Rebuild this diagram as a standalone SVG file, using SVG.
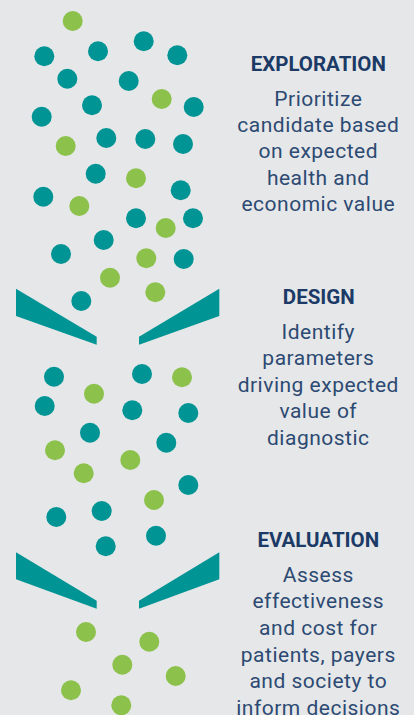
<svg xmlns="http://www.w3.org/2000/svg" width="414" height="715" viewBox="0 0 414 715">
  <style>
    .bg { fill: #e6e7e9; }
    .t { fill: #009494; }
    .g { fill: #8cc24b; }
    .wedge { fill: #009494; }
    .head { font-family: Roboto, "Liberation Sans", sans-serif; font-weight: 700; font-size: 20.5px; fill: #1b3a66; text-anchor: middle; }
    .body { font-family: Roboto, "Liberation Sans", sans-serif; font-size: 21px; letter-spacing: 0.5px; fill: #2c4a72; text-anchor: middle; }
  </style>
  <defs>
    <circle id="dot" r="10"/>
  </defs>
  <rect class="bg" x="0" y="0" width="414" height="715"/>

  <!-- Exploration cloud -->
  <g id="dots-exploration">
    <use href="#dot" class="g" x="72.7" y="21"/>
    <use href="#dot" class="t" x="44.3" y="56.3"/>
    <use href="#dot" class="t" x="98" y="51.3"/>
    <use href="#dot" class="t" x="143.7" y="41.3"/>
    <use href="#dot" class="t" x="177.3" y="55.3"/>
    <use href="#dot" class="t" x="67.3" y="78.7"/>
    <use href="#dot" class="t" x="128.7" y="81"/>
    <use href="#dot" class="g" x="161.7" y="99"/>
    <use href="#dot" class="t" x="193.7" y="107"/>
    <use href="#dot" class="t" x="92" y="105.3"/>
    <use href="#dot" class="t" x="41.7" y="116.7"/>
    <use href="#dot" class="g" x="65.7" y="146"/>
    <use href="#dot" class="t" x="106.3" y="138"/>
    <use href="#dot" class="t" x="145.3" y="139"/>
    <use href="#dot" class="t" x="183" y="144"/>
    <use href="#dot" class="t" x="95.7" y="173.7"/>
    <use href="#dot" class="g" x="136" y="178.3"/>
    <use href="#dot" class="t" x="180.7" y="190.3"/>
    <use href="#dot" class="t" x="43.3" y="196.7"/>
    <use href="#dot" class="g" x="79.3" y="206"/>
    <use href="#dot" class="t" x="136" y="218.3"/>
    <use href="#dot" class="g" x="165.7" y="228"/>
    <use href="#dot" class="t" x="193" y="218.3"/>
    <use href="#dot" class="t" x="103.7" y="240"/>
    <use href="#dot" class="t" x="61" y="254"/>
    <use href="#dot" class="g" x="146.3" y="258.3"/>
    <use href="#dot" class="t" x="183.7" y="259"/>
    <use href="#dot" class="g" x="110" y="277.7"/>
    <use href="#dot" class="g" x="155.3" y="292.3"/>
    <use href="#dot" class="t" x="81.3" y="301"/>
  </g>

  <!-- First funnel -->
  <g id="funnel-1">
    <polygon class="wedge" points="16,288.7 96.7,336.7 96.7,344.7 16,316"/>
    <polygon class="wedge" points="219.3,288.7 139,336.7 139,344.7 219.3,316"/>
  </g>

  <!-- Design cloud -->
  <g id="dots-design">
    <use href="#dot" class="t" x="54" y="376.7"/>
    <use href="#dot" class="t" x="142" y="374"/>
    <use href="#dot" class="g" x="182" y="377.3"/>
    <use href="#dot" class="g" x="94" y="393.7"/>
    <use href="#dot" class="t" x="44.7" y="406"/>
    <use href="#dot" class="t" x="132.3" y="410.3"/>
    <use href="#dot" class="t" x="188.3" y="413"/>
    <use href="#dot" class="t" x="90" y="432.7"/>
    <use href="#dot" class="t" x="166.3" y="442.7"/>
    <use href="#dot" class="g" x="55" y="450.3"/>
    <use href="#dot" class="g" x="130.3" y="460"/>
    <use href="#dot" class="g" x="83.7" y="473.3"/>
    <use href="#dot" class="t" x="188.3" y="485"/>
    <use href="#dot" class="g" x="154" y="500"/>
    <use href="#dot" class="t" x="56.3" y="517"/>
    <use href="#dot" class="t" x="101.7" y="511"/>
    <use href="#dot" class="t" x="105.7" y="546.3"/>
    <use href="#dot" class="t" x="156" y="535.7"/>
  </g>

  <!-- Second funnel -->
  <g id="funnel-2">
    <polygon class="wedge" points="16,552.3 96.7,600.7 96.7,608.7 16,579.3"/>
    <polygon class="wedge" points="219.3,552.3 139,600.7 139,608.7 219.3,579.3"/>
  </g>

  <!-- Evaluation cloud -->
  <g id="dots-evaluation">
    <use href="#dot" class="g" x="86" y="632"/>
    <use href="#dot" class="g" x="149.3" y="641.7"/>
    <use href="#dot" class="g" x="122.3" y="664.7"/>
    <use href="#dot" class="g" x="175.7" y="676"/>
    <use href="#dot" class="g" x="71" y="690.3"/>
    <use href="#dot" class="g" x="121.3" y="705.3"/>
  </g>

  <!-- Stage descriptions -->
  <g id="label-exploration">
    <text class="head" x="318.3" y="71">EXPLORATION</text>
    <text class="body" x="318.3" y="105.7">Prioritize</text>
    <text class="body" x="318.3" y="132">candidate based</text>
    <text class="body" x="318.3" y="158.3">on expected</text>
    <text class="body" x="318.3" y="184.6">health and</text>
    <text class="body" x="318.3" y="210.9">economic value</text>
  </g>
  <g id="label-design">
    <text class="head" x="318.8" y="304.3">DESIGN</text>
    <text class="body" x="318.3" y="338.5">Identify</text>
    <text class="body" x="318.3" y="365">parameters</text>
    <text class="body" x="318.3" y="391.5">driving expected</text>
    <text class="body" x="318.3" y="418">value of</text>
    <text class="body" x="318.3" y="444.5">diagnostic</text>
  </g>
  <g id="label-evaluation">
    <text class="head" x="318.3" y="547.3">EVALUATION</text>
    <text class="body" x="318.3" y="581.7">Assess</text>
    <text class="body" x="318.3" y="608.3">effectiveness</text>
    <text class="body" x="318.3" y="635">and cost for</text>
    <text class="body" x="318.3" y="661.7">patients, payers</text>
    <text class="body" x="318.3" y="688.3">and society to</text>
    <text class="body" x="318.3" y="715">inform decisions</text>
  </g>
</svg>
